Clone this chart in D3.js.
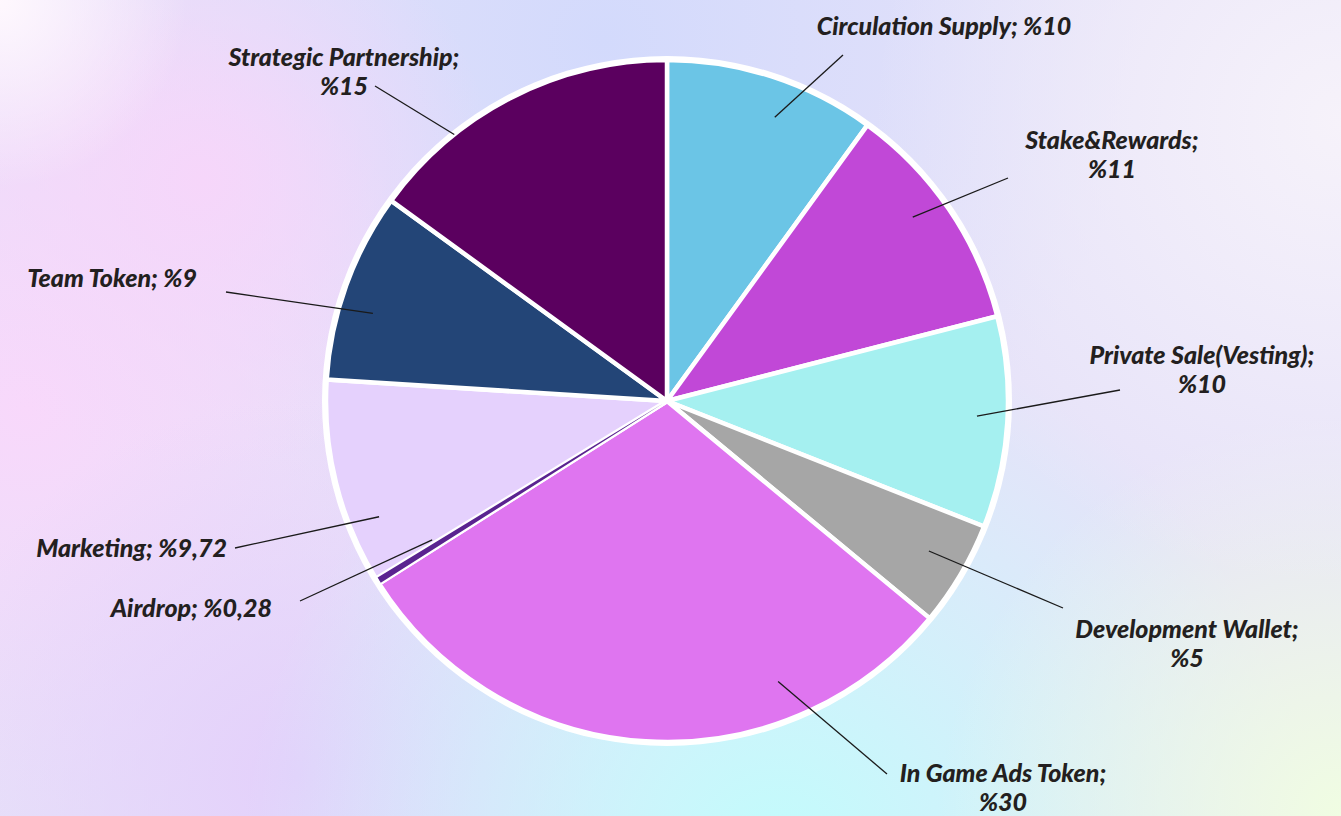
<!DOCTYPE html>
<html>
<head>
<meta charset="utf-8">
<script src="https://cdn.jsdelivr.net/npm/d3@7"></script>
<style>
  html, body { margin: 0; padding: 0; overflow: hidden; }
  .lbl { font-family: Lato, "Open Sans", sans-serif; font-weight: 900; font-style: italic; fill: #231f20; }
</style>
</head>
<body>
<div id="chart"></div>
<script>
// slice data, clockwise from 12 o'clock
var names = ["Circulation Supply", "Stake&Rewards", "Private Sale(Vesting)", "Development Wallet",
             "In Game Ads Token", "Airdrop", "Marketing", "Team Token", "Strategic Partnership"]
var values = [10, 11, 10, 5, 30, 0.28, 9.72, 9, 15]
var colors = ["#6bc5e6", "#c148d7", "#a5f0f0", "#a6a6a6", "#df75f0", "#5a2390", "#e5d1fd", "#234577", "#5b005f"]

var W = 1341, H = 816
var cx = 667, cy = 401, R = 341

// label placement (hand tuned to the original)
// a = leader start angle (deg, clockwise from top), rf = fraction of radius
var labelPos = [
  {x: 944,  y: 35,  anchor: "middle", split: false, a: 20.8,  rf: 0.89, ex: 843,  ey: 55},
  {x: 1112, y: 149, anchor: "middle", split: true,  a: 53.2,  rf: 0.90, ex: 1008, ey: 178},
  {x: 1202, y: 364, anchor: "middle", split: true,  a: 92.8,  rf: 0.91, ex: 1120, ey: 390},
  {x: 1187, y: 638, anchor: "middle", split: true,  a: 119.8, rf: 0.885, ex: 1063, ey: 608},
  {x: 1003, y: 782, anchor: "middle", split: true,  a: 158.4, rf: 0.885, ex: 887,  ey: 774},
  {x: 272,  y: 617, anchor: "end",    split: false, a: 239.4, rf: 0.80, ex: 300,  ey: 601},
  {x: 227,  y: 557, anchor: "end",    split: false, a: 248.1, rf: 0.91, ex: 235,  ey: 548},
  {x: 197,  y: 287, anchor: "end",    split: false, a: 286.6, rf: 0.90, ex: 226,  ey: 292},
  {x: 344,  y: 66,  anchor: "middle", split: true,  a: 321.4, rf: 1.0,  ex: 375,  ey: 86}
]

var svg = d3.select("#chart").append("svg")
    .attr("width", W)
    .attr("height", H)

// background: pastel blend made of a few radial blobs
var defs = svg.append("defs")
var blobs = [
  {id: "b1", x: 0.45, y: 0.05, r: 0.40, c: "#d3dafc"},
  {id: "b2", x: 0.02, y: 0.50, r: 0.32, c: "#f8d8fb"},
  {id: "b8", x: 0.15, y: 0.22, r: 0.22, c: "#f6d6fa"},
  {id: "b3", x: 0.22, y: 0.95, r: 0.28, c: "#e4d0fb"},
  {id: "b4", x: 0.58, y: 1.05, r: 0.40, c: "#c2fcfc"},
  {id: "b5", x: 1.00, y: 1.00, r: 0.30, c: "#f0fde2"},
  {id: "b6", x: 1.00, y: 0.15, r: 0.35, c: "#f6f2fa"},
  {id: "b7", x: 0.00, y: 0.00, r: 0.14, c: "#fff8fe"}
]
blobs.forEach(function(b){
  var g = defs.append("radialGradient")
      .attr("id", b.id)
      .attr("gradientUnits", "userSpaceOnUse")
      .attr("cx", b.x*W).attr("cy", b.y*H).attr("r", b.r*W)
  g.append("stop").attr("offset", "0%").attr("stop-color", b.c).attr("stop-opacity", 1)
  g.append("stop").attr("offset", "100%").attr("stop-color", b.c).attr("stop-opacity", 0)
})

svg.append("rect").attr("width", W).attr("height", H).attr("fill", "#e6e2f9")
blobs.forEach(function(b){
  svg.append("rect").attr("width", W).attr("height", H).attr("fill", "url(#" + b.id + ")")
})

// pie
var pie = d3.pie().sort(null).value(function(d){ return d })
var arc = d3.arc().innerRadius(0).outerRadius(R)
var arcs = pie(values)

var g = svg.append("g").attr("transform", "translate(" + cx + "," + cy + ")")

g.append("circle").attr("r", R + 4).attr("fill", "#ffffff")

g.selectAll(".slice")
  .data(arcs).enter()
  .append("path")
    .attr("class", "slice")
    .attr("d", arc)
    .attr("fill", function(d, i){ return colors[i] })
    .attr("stroke", "#ffffff")
    .attr("stroke-width", 4.5)
    .attr("stroke-linejoin", "round")

// the tiny airdrop wedge would vanish under the white stroke, lay its fill back on top
g.append("path")
    .datum(arcs[5])
    .attr("d", d3.arc().innerRadius(6).outerRadius(R - 2))
    .attr("fill", colors[5])

// leader lines
function fmt(v){ return "%" + String(v).replace(".", ",") }

labelPos.forEach(function(p, i){
  var ang = p.a * Math.PI / 180
  var sx = cx + Math.sin(ang) * R * p.rf
  var sy = cy - Math.cos(ang) * R * p.rf
  svg.append("line")
    .attr("x1", sx).attr("y1", sy)
    .attr("x2", p.ex).attr("y2", p.ey)
    .attr("stroke", "#1a1a1a")
    .attr("stroke-width", 1.3)

  var t = svg.append("text")
    .attr("class", "lbl")
    .attr("x", p.x).attr("y", p.y)
    .attr("text-anchor", p.anchor)
    .style("font-size", "25px")
  if (p.split) {
    t.append("tspan").attr("x", p.x).text(names[i] + ";")
    t.append("tspan").attr("x", p.x).attr("dy", 29).text(fmt(values[i]))
  } else {
    t.text(names[i] + "; " + fmt(values[i]))
  }
})
</script>
</body>
</html>
